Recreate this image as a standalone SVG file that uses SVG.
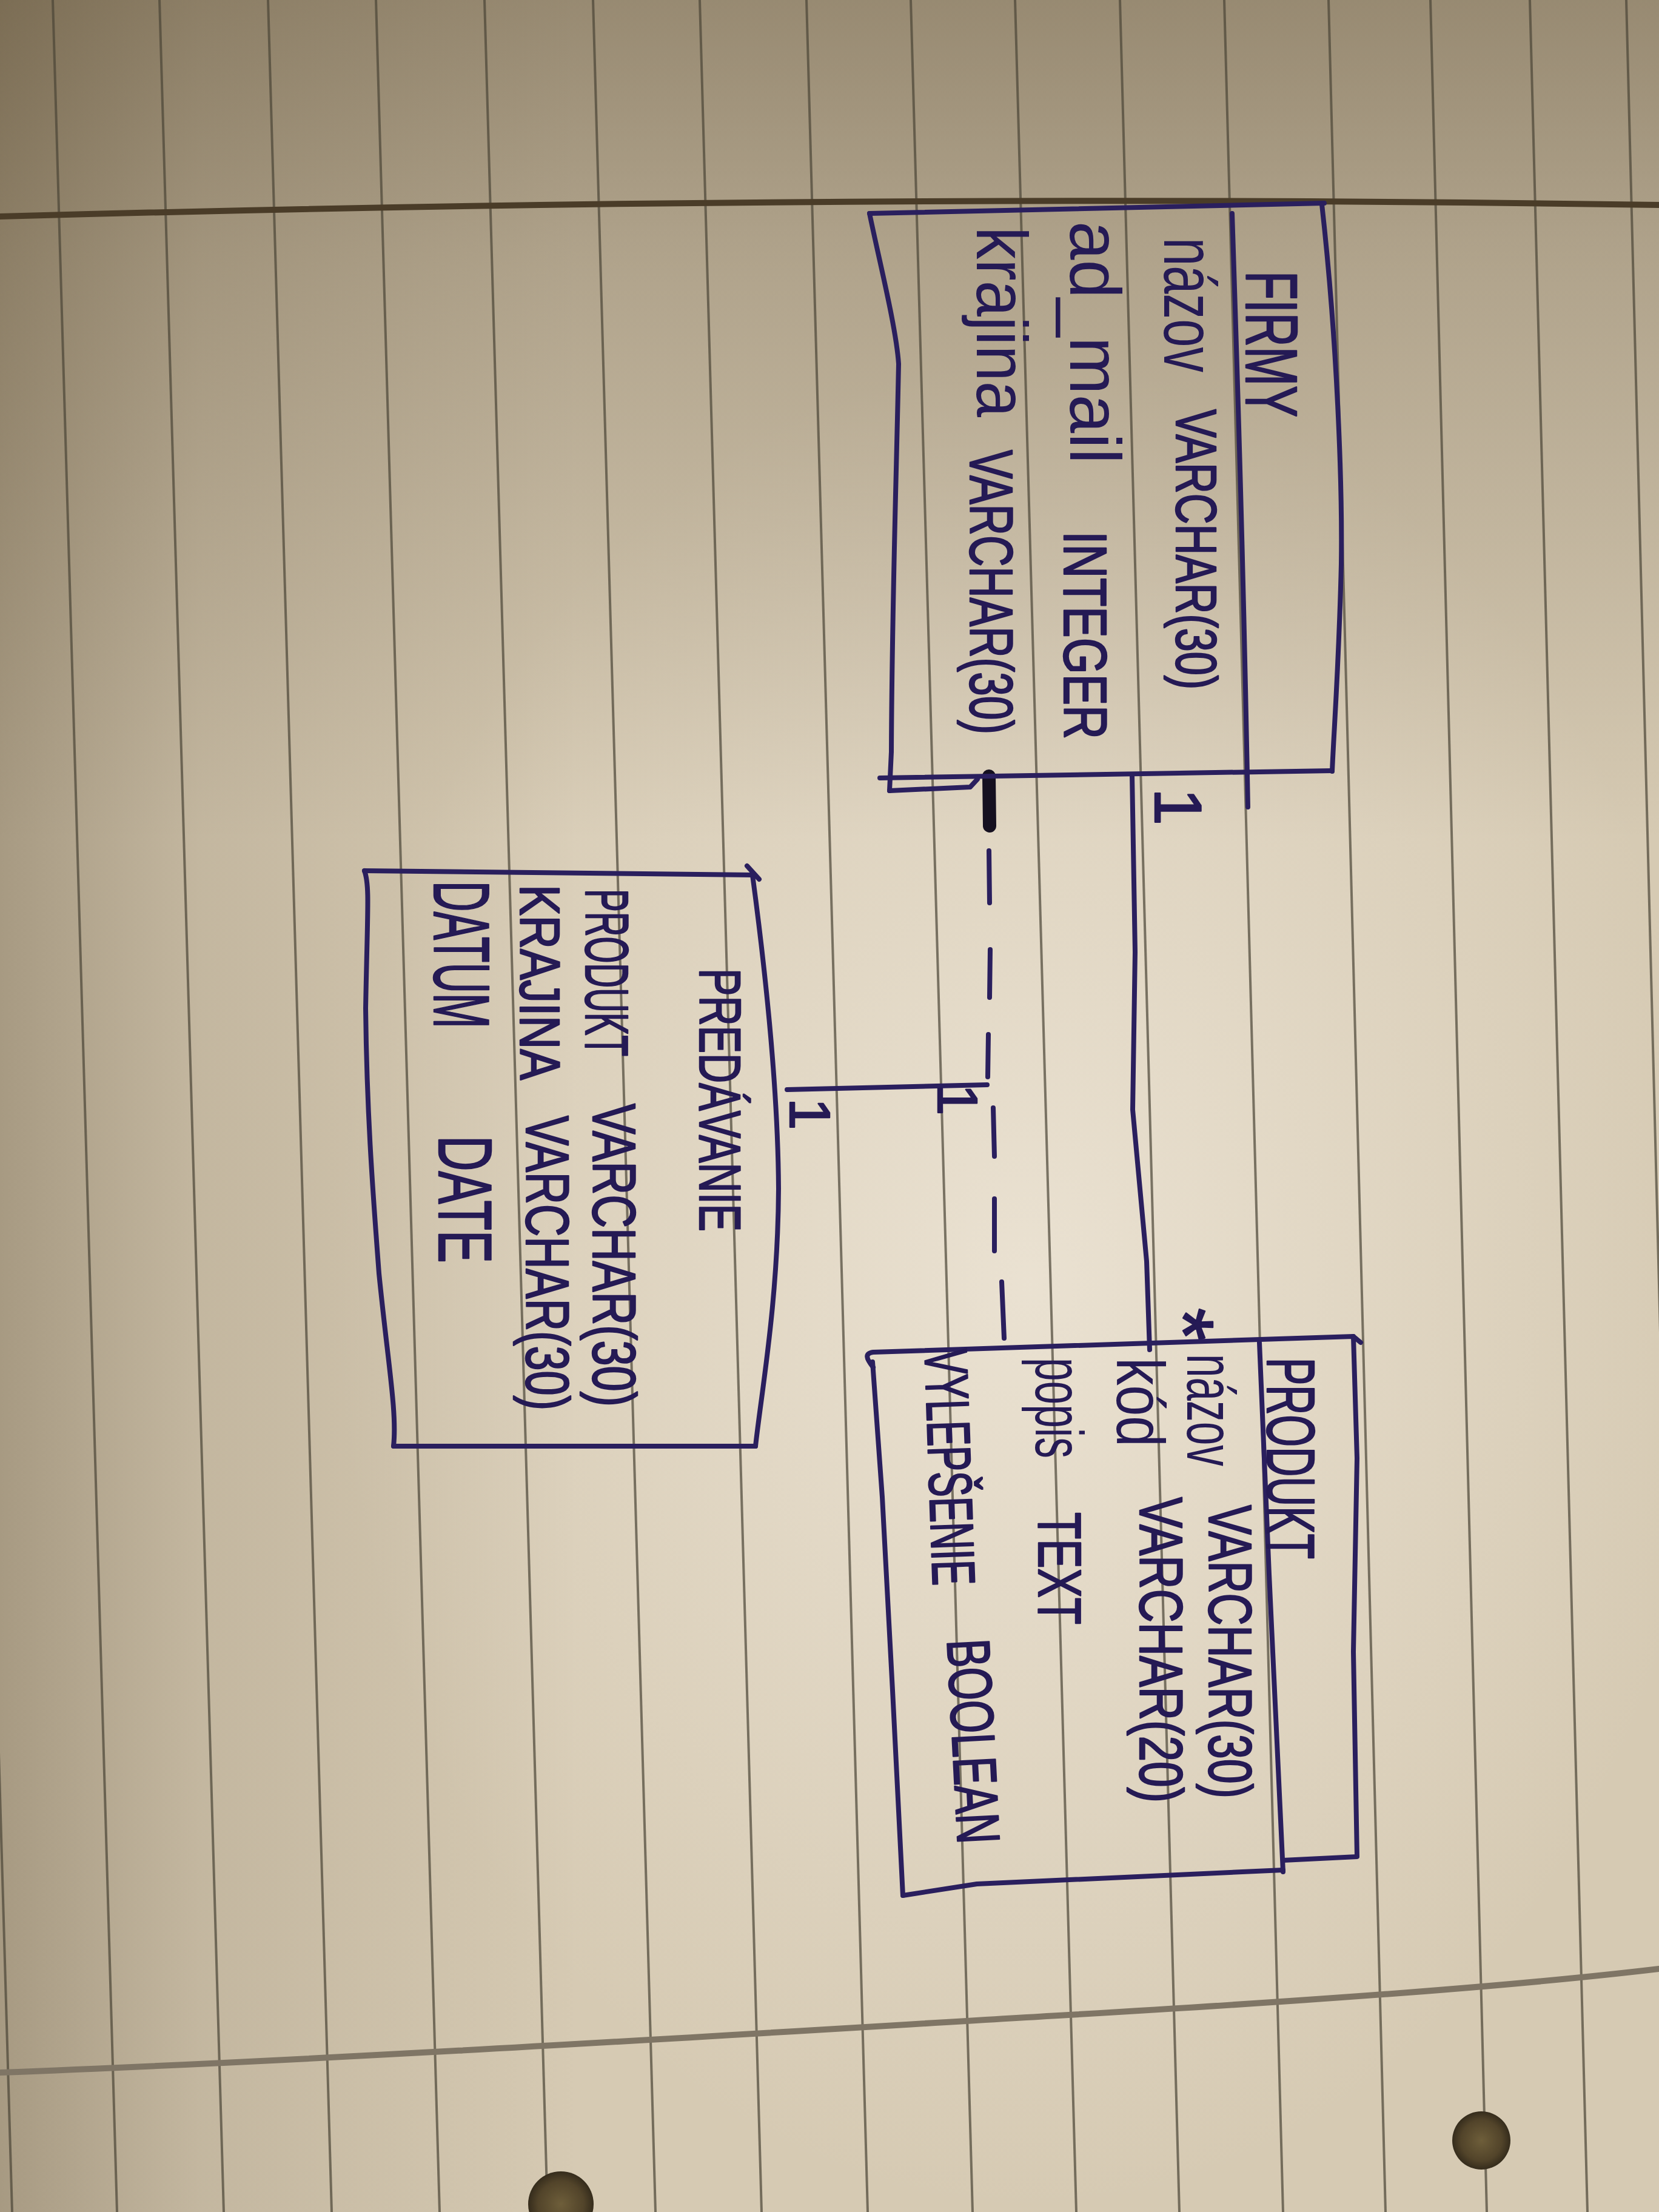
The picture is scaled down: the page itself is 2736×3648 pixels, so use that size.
<svg xmlns="http://www.w3.org/2000/svg" width="2736" height="3648" viewBox="0 0 2736 3648">
<defs>
  <linearGradient id="topShade" x1="0" y1="0" x2="0" y2="1">
    <stop offset="0" stop-color="#3a2a10" stop-opacity="0.40"/>
    <stop offset="0.12" stop-color="#3a2a10" stop-opacity="0.24"/>
    <stop offset="0.38" stop-color="#3a2a10" stop-opacity="0"/>
  </linearGradient>
  <linearGradient id="leftShade" x1="0" y1="0" x2="1" y2="0">
    <stop offset="0" stop-color="#3a2a10" stop-opacity="0.30"/>
    <stop offset="0.12" stop-color="#3a2a10" stop-opacity="0.12"/>
    <stop offset="0.35" stop-color="#3a2a10" stop-opacity="0"/>
  </linearGradient>
  <radialGradient id="glow" cx="0.62" cy="0.58" r="0.42">
    <stop offset="0" stop-color="#f5eee2" stop-opacity="0.65"/>
    <stop offset="1" stop-color="#f5eee2" stop-opacity="0"/>
  </radialGradient>
  <radialGradient id="holeG" cx="0.5" cy="0.5" r="0.5">
    <stop offset="0" stop-color="#6e5e3a"/>
    <stop offset="0.7" stop-color="#52442a"/>
    <stop offset="1" stop-color="#352c1c"/>
  </radialGradient>
  <style>
    .ink{fill:none;stroke:#2a1f5e;stroke-width:8;stroke-linecap:round;stroke-linejoin:round}
    .t{font-family:"Liberation Sans",Arial,sans-serif;fill:#251a55}
    .c{stroke:#251a55;stroke-width:2.5;stroke-linejoin:round}
    .rule{fill:none;stroke:#4a4436;stroke-width:4;opacity:0.7}
    .hrule{fill:none;stroke-linecap:round}
  </style>
</defs>

<g id="paper">
  <rect x="0" y="0" width="2736" height="3648" fill="#d6cab3"/>
  <rect x="0" y="0" width="2736" height="3648" fill="url(#glow)"/>
  <rect x="0" y="0" width="2736" height="3648" fill="url(#topShade)"/>
  <rect x="0" y="0" width="2736" height="3648" fill="url(#leftShade)"/>
  <path class="rule" d="M-86,0 L20,3648"/>
  <path class="rule" d="M87,0 L193,3648"/>
  <path class="rule" d="M263,0 L369,3648"/>
  <path class="rule" d="M442,0 L547,3648"/>
  <path class="rule" d="M620,0 L725,3648"/>
  <path class="rule" d="M799,0 L903,3648"/>
  <path class="rule" d="M978,0 L1081,3648"/>
  <path class="rule" d="M1154,0 L1256,3648"/>
  <path class="rule" d="M1330,0 L1431,3648"/>
  <path class="rule" d="M1502,0 L1604,3648"/>
  <path class="rule" d="M1674,0 L1775,3648"/>
  <path class="rule" d="M1847,0 L1945,3648"/>
  <path class="rule" d="M2019,0 L2116,3648"/>
  <path class="rule" d="M2191,0 L2285,3648"/>
  <path class="rule" d="M2359,0 L2452,3648"/>
  <path class="rule" d="M2523,0 L2618,3648"/>
  <path class="rule" d="M2682,0 L2775,3648"/>
  <path class="hrule" d="M0,357 Q1400,318 2736,338" stroke="#4a3c28" stroke-width="10"/>
  <path class="hrule" d="M0,3418 C600,3395 1300,3350 1745,3324 S2500,3275 2736,3247" stroke="#7f7565" stroke-width="10"/>
  <circle cx="2443" cy="3530" r="48" fill="url(#holeG)"/>
  <circle cx="925" cy="3635" r="54" fill="url(#holeG)"/>
</g>

<g id="connectors">
  <path class="ink" d="M1867,1278 L1872,1570 L1868,1830 L1891,2080 L1896,2226"/>
  <path d="M1631,1280 L1632,1362" fill="none" stroke="#151020" stroke-width="22" stroke-linecap="round"/>
  <path class="ink" d="M1631,1403 L1632,1489 M1633,1566 L1632,1645 M1630,1706 L1629,1776 M1638,1827 L1640,1907 M1640,1977 L1640,2063 M1652,2114 L1656,2207"/>
  <path class="ink" d="M1298,1797 L1628,1789"/>
  <text class="t c" transform="translate(1905,1300) rotate(90)" font-size="110">1</text>
  <text class="t c" transform="translate(1547,1788) rotate(90)" font-size="92">1</text>
  <text class="t c" transform="translate(1303,1811) rotate(90)" font-size="94">1</text>
  <text class="t c" transform="translate(1904,2157) rotate(90)" font-size="140">*</text>
</g>

<g id="firmy">
  <path class="ink" d="M1434,352 L2184,335"/>
  <path class="ink" d="M2180,337 C2205,560 2214,800 2212,930 C2208,1100 2200,1200 2197,1272"/>
  <path class="ink" d="M1434,352 C1450,430 1478,540 1482,600 C1478,800 1471,1000 1470,1240 L1467,1304"/>
  <path class="ink" d="M1451,1283 L2197,1271"/>
  <path class="ink" d="M1467,1304 L1600,1298 L1612,1285"/>
  <path class="ink" d="M2032,352 C2040,600 2050,900 2058,1331"/>
  <text class="t c" transform="translate(2055,447) rotate(90)" font-size="120" textLength="241" lengthAdjust="spacingAndGlyphs">FIRMY</text>
  <text class="t" transform="translate(1920,392) rotate(90)" font-size="120" textLength="222" lengthAdjust="spacingAndGlyphs">názov</text>
  <text class="t c" transform="translate(1940,675) rotate(90)" font-size="95" textLength="462" lengthAdjust="spacingAndGlyphs">VARCHAR(30)</text>
  <text class="t" transform="translate(1765,365) rotate(90)" font-size="118" textLength="400" lengthAdjust="spacingAndGlyphs">ad_mail</text>
  <text class="t c" transform="translate(1755,876) rotate(90)" font-size="100" textLength="343" lengthAdjust="spacingAndGlyphs">INTEGER</text>
  <text class="t" transform="translate(1611,374) rotate(90)" font-size="118" textLength="314" lengthAdjust="spacingAndGlyphs">krajina</text>
  <text class="t c" transform="translate(1600,742) rotate(90)" font-size="100" textLength="469" lengthAdjust="spacingAndGlyphs">VARCHAR(30)</text>
</g>

<g id="predavanie">
  <path class="ink" d="M601,1436 L1241,1443"/>
  <path class="ink" d="M1232,1428 L1252,1450"/>
  <path class="ink" d="M1241,1443 C1262,1600 1283,1800 1284,1960 C1283,2150 1255,2300 1246,2385"/>
  <path class="ink" d="M1246,2385 L649,2385"/>
  <path class="ink" d="M601,1436 C610,1460 606,1500 603,1663 C605,1850 617,1991 625,2100 C640,2250 655,2330 649,2385"/>
  <text class="t c" transform="translate(1154,1597) rotate(90)" font-size="96" textLength="434" lengthAdjust="spacingAndGlyphs">PREDÁVANIE</text>
  <text class="t c" transform="translate(966,1466) rotate(90)" font-size="100" textLength="276" lengthAdjust="spacingAndGlyphs">PRODUKT</text>
  <text class="t c" transform="translate(978,1820) rotate(90)" font-size="100" textLength="500" lengthAdjust="spacingAndGlyphs">VARCHAR(30)</text>
  <text class="t c" transform="translate(858,1459) rotate(90)" font-size="92" textLength="322" lengthAdjust="spacingAndGlyphs">KRAJINA</text>
  <text class="t c" transform="translate(868,1840) rotate(90)" font-size="100" textLength="486" lengthAdjust="spacingAndGlyphs">VARCHAR(30)</text>
  <text class="t c" transform="translate(716,1453) rotate(90)" font-size="130" textLength="243" lengthAdjust="spacingAndGlyphs">DATUM</text>
  <text class="t c" transform="translate(724,1873) rotate(90)" font-size="125" textLength="210" lengthAdjust="spacingAndGlyphs">DATE</text>
</g>

<g id="produkt">
  <path class="ink" d="M1440,2255 C1428,2240 1426,2232 1440,2230 L2232,2204 L2244,2214"/>
  <path class="ink" d="M2232,2204 L2238,2405 L2232,2724 L2238,3062 L2116,3068"/>
  <path class="ink" d="M1489,3126 L1611,3107 L2116,3084"/>
  <path class="ink" d="M1439,2246 L1455,2469 L1472,2788 L1489,3126"/>
  <path class="ink" d="M2077,2214 L2093,2596 L2116,3087"/>
  <text class="t c" transform="translate(2090,2239) rotate(90)" font-size="112" textLength="332" lengthAdjust="spacingAndGlyphs">PRODUKT</text>
  <text class="t" transform="translate(1958,2233) rotate(90)" font-size="112" textLength="185" lengthAdjust="spacingAndGlyphs">názov</text>
  <text class="t c" transform="translate(1994,2482) rotate(90)" font-size="100" textLength="484" lengthAdjust="spacingAndGlyphs">VARCHAR(30)</text>
  <text class="t" transform="translate(1842,2239) rotate(90)" font-size="112" textLength="147" lengthAdjust="spacingAndGlyphs">kód</text>
  <text class="t c" transform="translate(1880,2469) rotate(90)" font-size="100" textLength="504" lengthAdjust="spacingAndGlyphs">VARCHAR(20)</text>
  <text class="t" transform="translate(1708,2239) rotate(90)" font-size="112" textLength="166" lengthAdjust="spacingAndGlyphs">popis</text>
  <text class="t c" transform="translate(1713,2494) rotate(90)" font-size="100" textLength="185" lengthAdjust="spacingAndGlyphs">TEXT</text>
  <text class="t c" transform="translate(1525,2226) rotate(88)" font-size="100" textLength="390" lengthAdjust="spacingAndGlyphs">VYLEPŠENIE</text>
  <text class="t c" transform="translate(1562,2705) rotate(87)" font-size="100" textLength="338" lengthAdjust="spacingAndGlyphs">BOOLEAN</text>
</g>
</svg>
